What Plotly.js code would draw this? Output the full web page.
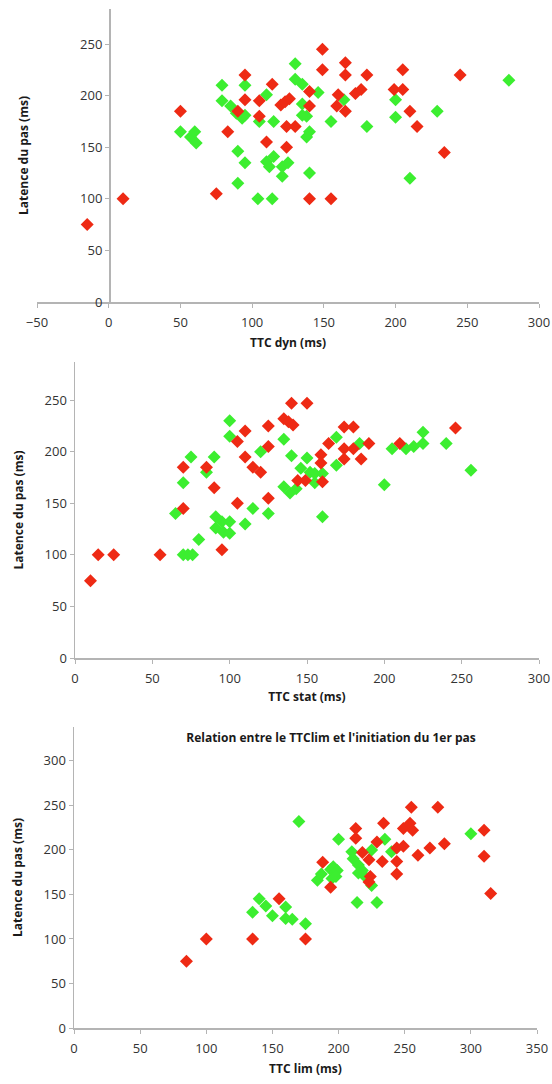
<!DOCTYPE html>
<html>
<head>
<meta charset="utf-8">
<script src="https://cdn.plot.ly/plotly-3.0.1.min.js"></script>
<style>html,body{margin:0;padding:0;background:#fff;}#chart{width:552px;height:1084px;}</style>
</head>
<body>
<div id="chart"></div>
<script>
// ---- Chart 1 : TTC dyn ----
const dynRedX = [-15,10,50,83,75,90,95,95,105,105,114,110,120,123,126,124,130,124,140,140,149,149,140,155,160,165,165,180,205,245,199,205,210,215,234,172,176,159,165];
const dynRedY = [75,100,185,165,105,185,220,196,195,180,211,155,191,194,197,170,170,150,204,190,245,225,100,100,201,232,220,220,225,220,206,206,185,170,145,202,206,190,185];
const dynGreenX = [50,57,60,61,79,79,85,89,93,95,95,110,105,115,90,95,90,104,114,110,115,112,121,125,121,130,130,135,146,135,138,135,140,138,140,155,164,180,200,200,229,279,210];
const dynGreenY = [165,160,165,154,210,195,190,183,178,210,181,201,175,175,146,135,115,100,100,136,141,131,131,135,122,231,216,211,203,192,180,181,165,160,125,175,196,170,196,179,185,215,120];

// ---- Chart 2 : TTC stat ----
const statRedX = [10,15,25,55,70,70,85,90,95,105,105,110,110,115,120,125,125,125,135,138,141,140,150,144,149,160,159,159,164,174,180,174,180,174,185,190,210,246];
const statRedY = [75,100,100,100,185,145,185,165,105,150,210,220,195,185,180,225,205,155,232,229,226,247,247,172,172,171,197,189,208,224,224,203,203,193,193,208,208,223];
const statGreenX = [65,70,75,70,73,76,80,85,90,91,95,91,96,100,100,100,100,110,115,125,120,135,140,135,139,143,150,146,152,155,160,155,160,169,169,184,205,214,219,225,225,240,256,200];
const statGreenY = [140,170,195,100,100,100,115,180,195,137,132,126,122,132,121,230,215,130,145,140,200,212,196,166,160,164,194,184,180,179,179,170,137,214,187,208,203,203,205,208,219,208,182,168];

// ---- Chart 3 : TTC lim ----
const limRedX = [85,100,135,155,175,188,194,213,213,218,223,224,223,229,233,234,244,244,244,249,254,255,256,249,260,269,275,280,310,310,315];
const limRedY = [75,100,100,145,100,186,158,224,213,197,189,170,164,209,187,230,187,202,173,224,230,248,222,204,194,202,248,207,222,193,151];
const limGreenX = [135,140,145,150,160,160,165,175,170,184,187,194,196,195,199,198,200,210,211,215,218,215,220,225,235,240,214,229,225,300];
const limGreenY = [130,145,137,126,136,123,122,117,232,166,173,178,181,168,177,170,212,198,190,183,177,174,170,200,212,198,141,141,160,218];

// ---- Text ----
const xTitles = ['TTC dyn (ms)', 'TTC stat (ms)', 'TTC lim (ms)'];
const yTitle = 'Latence du pas (ms)';
const chart3Title = "Relation entre le TTClim et l'initiation du 1er pas";

const RED = '#ee2a14';
const GREEN = '#3cee30';
const W = 552, H = 1084;

function pts(x, y, color, xa, ya) {
  return {x: x, y: y, type: 'scatter', mode: 'markers', xaxis: xa, yaxis: ya,
    marker: {symbol: 'diamond', size: 10, color: color, line: {width: 0}},
    showlegend: false, hoverinfo: 'x+y'};
}

const data = [
  pts(dynGreenX, dynGreenY, GREEN, 'x', 'y'),
  pts(dynRedX, dynRedY, RED, 'x', 'y'),
  pts(statGreenX, statGreenY, GREEN, 'x2', 'y2'),
  pts(statRedX, statRedY, RED, 'x2', 'y2'),
  pts(limGreenX, limGreenY, GREEN, 'x3', 'y3'),
  pts(limRedX, limRedY, RED, 'x3', 'y3')
];

const FONT = 'Open Sans, Liberation Sans, sans-serif';
const tickFont = {family: FONT, size: 13, color: '#333'};
const titleFont = {family: FONT, size: 12, color: '#1a1a1a', weight: 'bold'};
const AX = {showgrid: false, zeroline: false, showline: true, linecolor: '#b4b4b4', linewidth: 1.5,
  ticks: 'outside', ticklen: 4, tickcolor: '#b4b4b4', tickfont: tickFont, fixedrange: true, dtick: 50};
const XAX = Object.assign({}, AX, {ticklabelstandoff: 4});

function px2x(p) { return p / W; }
function py2y(p) { return 1 - p / H; }

const layout = {
  width: W, height: H,
  margin: {l: 0, r: 0, t: 0, b: 0},
  paper_bgcolor: '#fff', plot_bgcolor: '#fff',
  font: {family: FONT},
  showlegend: false,
  title: {text: chart3Title, font: titleFont, x: px2x(331), y: py2y(738), xanchor: 'center', yanchor: 'middle', xref: 'paper', yref: 'paper'},
  xaxis: Object.assign({}, XAX, {domain: [px2x(37), px2x(539)], range: [-50, 300], anchor: 'y',
    title: {text: xTitles[0], font: titleFont, standoff: 8}}),
  yaxis: Object.assign({}, AX, {domain: [py2y(302), py2y(9)], range: [0, 284], anchor: 'free', position: px2x(109),
    title: {text: yTitle, font: titleFont, standoff: 47}}),
  xaxis2: Object.assign({}, XAX, {domain: [px2x(75), px2x(539)], range: [0, 300], anchor: 'y2',
    title: {text: xTitles[1], font: titleFont, standoff: 6}}),
  yaxis2: Object.assign({}, AX, {domain: [py2y(658), py2y(362)], range: [0, 287], anchor: 'x2',
    title: {text: yTitle, font: titleFont, standoff: 18}}),
  xaxis3: Object.assign({}, XAX, {domain: [px2x(74), px2x(537)], range: [0, 350], anchor: 'y3',
    title: {text: xTitles[2], font: titleFont, standoff: 8}}),
  yaxis3: Object.assign({}, AX, {domain: [py2y(1028), py2y(727)], range: [0, 338], anchor: 'x3',
    title: {text: yTitle, font: titleFont, standoff: 18}})
};

Plotly.newPlot('chart', data, layout, {displayModeBar: false, staticPlot: true});
</script>
</body>
</html>
